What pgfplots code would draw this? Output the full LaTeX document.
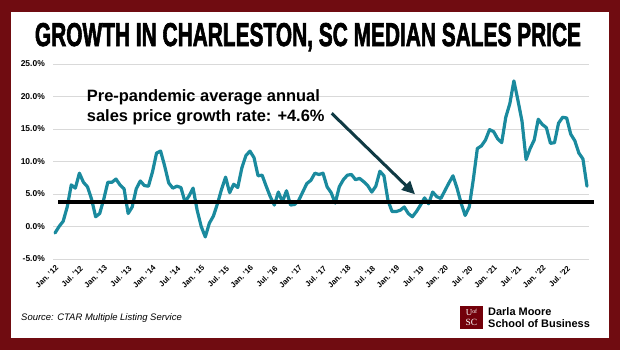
\documentclass[border=0pt]{standalone}
\usepackage{graphicx}
\usepackage{fontspec}
\setmainfont{Liberation Sans}
\newfontfamily\titlefont{Liberation Sans}[BoldFeatures={FakeBold=2.5}]
\newfontfamily\logoserif{Liberation Serif}
\usepackage{pgfplots}
\pgfplotsset{compat=1.18}
\usetikzlibrary{arrows.meta}
\definecolor{bgred}{RGB}{112,12,17}
\definecolor{teal1}{RGB}{26,138,158}
\definecolor{arrowc}{RGB}{16,58,68}
\definecolor{logored}{RGB}{115,0,10}
\definecolor{gridc}{RGB}{217,217,217}
\begin{document}
\begin{tikzpicture}[x=1bp,y=1bp]
\useasboundingbox (0,0) rectangle (620,350);
\fill[bgred] (0,0) rectangle (620,350);
\fill[white] (11,12) rectangle (609,338);
\node[anchor=base, inner sep=0pt] at (308,304) {\resizebox{546bp}{23bp}{\titlefont\bfseries GROWTH IN CHARLESTON, SC MEDIAN SALES PRICE}};
\begin{axis}[
  at={(53bp,91bp)}, anchor=south west,
  scale only axis, width=536bp, height=195bp,
  xmin=-0.5, xmax=131.5, ymin=-5, ymax=25,
  clip=false,
  axis line style={draw=none},
  major tick length=0pt,
  ymajorgrids, major grid style={gridc, line width=0.8bp},
  ytick={-5,0,5,10,15,20,25},
  yticklabels={-5.0\%,0.0\%,5.0\%,10.0\%,15.0\%,20.0\%,25.0\%},
  yticklabel style={font=\fontsize{8.5}{10}\selectfont\bfseries, anchor=east, inner sep=0pt, xshift=-8bp},
  xtick={0,6,...,126},
  xticklabels={Jan.~'12,Jul.~'12,Jan.~'13,Jul.~'13,Jan.~'14,Jul.~'14,Jan.~'15,Jul.~'15,Jan.~'16,Jul.~'16,Jan.~'17,Jul.~'17,Jan.~'18,Jul.~'18,Jan.~'19,Jul.~'19,Jan.~'20,Jul.~'20,Jan.~'21,Jul.~'21,Jan.~'22,Jul.~'22},
  xticklabel style={yshift=-5bp, font=\fontsize{7.8}{9}\selectfont\bfseries, rotate=45, anchor=north east, inner sep=0.5bp},
]
\addplot[teal1, line width=3.2bp, line join=round, line cap=round] coordinates {
(0,-1.0)(1,0.0)(2,0.8)(3,3.0)(4,6.4)(5,5.9)(6,8.2)(7,6.8)(8,6.1)(9,4.2)
(10,1.5)(11,2.0)(12,4.2)(13,6.8)(14,6.8)(15,7.3)(16,6.4)(17,5.8)(18,2.0)(19,3.0)
(20,5.8)(21,7.0)(22,6.3)(23,6.2)(24,8.4)(25,11.3)(26,11.6)(27,9.3)(28,6.7)(29,5.9)
(30,6.2)(31,6.0)(32,3.8)(33,4.7)(34,5.9)(35,2.5)(36,0.0)(37,-1.6)(38,0.5)(39,1.6)
(40,3.5)(41,5.7)(42,7.6)(43,5.2)(44,6.5)(45,6.0)(46,9.0)(47,10.9)(48,11.6)(49,10.6)
(50,7.8)(51,7.9)(52,6.2)(53,4.6)(54,3.3)(55,5.3)(56,3.8)(57,5.5)(58,3.3)(59,3.4)
(60,4.0)(61,5.3)(62,6.6)(63,7.1)(64,8.2)(65,8.0)(66,8.2)(67,6.1)(68,5.2)(69,3.6)
(70,6.1)(71,7.2)(72,7.9)(73,8.0)(74,7.2)(75,7.4)(76,6.9)(77,6.3)(78,5.3)(79,6.2)
(80,8.5)(81,7.8)(82,4.0)(83,2.3)(84,2.3)(85,2.5)(86,3.0)(87,2.0)(88,1.5)(89,2.3)
(90,3.3)(91,4.4)(92,3.5)(93,5.3)(94,4.6)(95,4.3)(96,5.5)(97,6.7)(98,7.8)(99,5.9)
(100,3.6)(101,1.7)(102,3.0)(103,7.2)(104,12.0)(105,12.4)(106,13.3)(107,14.9)(108,14.6)(109,13.5)
(110,12.9)(111,16.8)(112,18.9)(113,22.4)(114,19.4)(115,16.2)(116,10.3)(117,12.0)(118,13.3)(119,16.5)
(120,15.7)(121,15.2)(122,12.8)(123,12.9)(124,15.9)(125,16.8)(126,16.7)(127,14.2)(128,13.2)(129,11.3)
(130,10.4)(131,6.2)
};
\addplot[black, line width=4bp] coordinates {(0.74,3.8) (132.8,3.8)};
\end{axis}
\node[anchor=base west, inner sep=0pt, font=\fontsize{16.5}{20}\selectfont\bfseries] at (86.7,248.3) {Pre-pandemic average annual};
\node[anchor=base west, inner sep=0pt, font=\fontsize{16.5}{20}\selectfont\bfseries] at (86.7,228.5) {sales price growth rate: +4.6\%};
\draw[arrowc, line width=3bp, -{Triangle[length=13bp,width=12bp]}] (331.7,236.7) -- (415,155.7);
\node[anchor=west, inner sep=0pt, font=\fontsize{9.5}{11}\selectfont\itshape] at (21,32) {Source: CTAR Multiple Listing Service};
\fill[logored] (460,21) rectangle (483,44);
\node[anchor=center, inner sep=0pt, text=white, font=\logoserif\fontsize{9}{9}\selectfont] at (471.5,37.5) {U\raisebox{2bp}{\fontsize{6}{6}\selectfont of}};
\node[anchor=center, inner sep=0pt, text=white, font=\logoserif\fontsize{9.5}{9}\selectfont] at (471.5,27.5) {SC};
\node[anchor=west, inner sep=0pt, font=\fontsize{11}{12}\selectfont\bfseries] at (488,38.3) {Darla Moore};
\node[anchor=west, inner sep=0pt, font=\fontsize{11}{12}\selectfont\bfseries] at (488,26) {School of Business};
\end{tikzpicture}
\end{document}
